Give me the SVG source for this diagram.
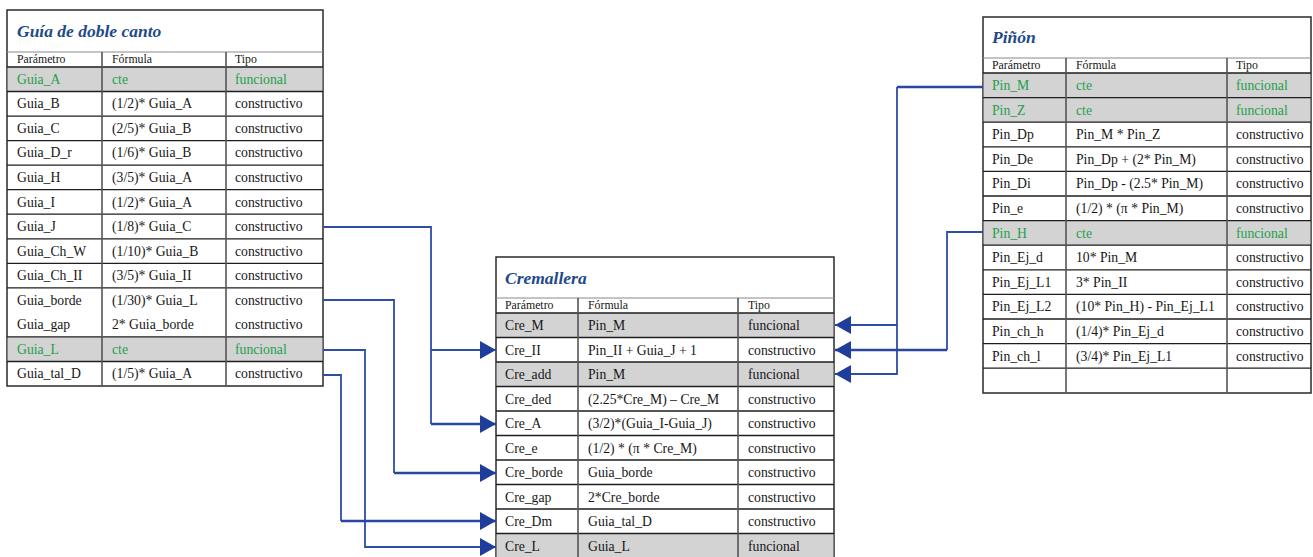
<svg xmlns="http://www.w3.org/2000/svg" width="1313" height="557" viewBox="0 0 1313 557">
<style>
text{font-family:"Liberation Serif","Times New Roman",serif;fill:#161616}
.t{font-size:13.7px}
.h{font-size:11.8px}
.ttl{font-size:17.5px;font-weight:bold;font-style:italic;fill:#1F4A8A}
.g{fill:#22A04B}
.box{fill:#fff;stroke:#2a2a2a;stroke-width:1.5}
.sh{fill:#D3D3D3}
.rl{stroke:#1e1e1e;stroke-width:1.3}
.sl{stroke:#888;stroke-width:1}
.cl{stroke:#555;stroke-width:1.6}
.c{fill:none;stroke:#2E4DA7;stroke-width:1.8}
.ck{fill:none;stroke:#2A46A3;stroke-width:2.4}
</style>
<defs>
<marker id="ar" viewBox="0 0 16 18" refX="16" refY="9" markerWidth="16" markerHeight="18" markerUnits="userSpaceOnUse" orient="auto">
<path d="M0,0 L16,9 L0,18 z" fill="#1F3D9B"/>
</marker>
</defs>

<g id="guia">
<rect class="box" x="7" y="10" width="316" height="376"/>
<rect class="sh" x="7.7" y="67" width="314.6" height="24.5"/>
<rect class="sh" x="7.7" y="336.9" width="314.6" height="24.6"/>
<line class="sl" x1="7" y1="52" x2="323" y2="52"/>
<line class="rl" x1="7" y1="67" x2="323" y2="67"/>
<line class="rl" x1="7" y1="91.5" x2="323" y2="91.5"/>
<line class="rl" x1="7" y1="116.1" x2="323" y2="116.1"/>
<line class="rl" x1="7" y1="140.6" x2="323" y2="140.6"/>
<line class="rl" x1="7" y1="165.2" x2="323" y2="165.2"/>
<line class="rl" x1="7" y1="189.7" x2="323" y2="189.7"/>
<line class="rl" x1="7" y1="214.2" x2="323" y2="214.2"/>
<line class="rl" x1="7" y1="238.8" x2="323" y2="238.8"/>
<line class="rl" x1="7" y1="263.3" x2="323" y2="263.3"/>
<line class="rl" x1="7" y1="287.9" x2="323" y2="287.9"/>
<line class="rl" x1="7" y1="336.9" x2="323" y2="336.9"/>
<line class="rl" x1="7" y1="361.5" x2="323" y2="361.5"/>
<line class="cl" x1="102" y1="52" x2="102" y2="386"/>
<line class="cl" x1="226" y1="52" x2="226" y2="386"/>
<text class="ttl" x="17" y="37">Guía de doble canto</text>
<text class="h" x="17" y="63">Parámetro</text><text class="h" x="112" y="63">Fórmula</text><text class="h" x="235" y="63">Tipo</text>
<text class="t g" x="17" y="83.8">Guia_A</text><text class="t g" x="112" y="83.8">cte</text><text class="t g" x="235" y="83.8">funcional</text>
<text class="t" x="17" y="108.3">Guia_B</text><text class="t" x="112" y="108.3">(1/2)* Guia_A</text><text class="t" x="235" y="108.3">constructivo</text>
<text class="t" x="17" y="132.9">Guia_C</text><text class="t" x="112" y="132.9">(2/5)* Guia_B</text><text class="t" x="235" y="132.9">constructivo</text>
<text class="t" x="17" y="157.4">Guia_D_r</text><text class="t" x="112" y="157.4">(1/6)* Guia_B</text><text class="t" x="235" y="157.4">constructivo</text>
<text class="t" x="17" y="182">Guia_H</text><text class="t" x="112" y="182">(3/5)* Guia_A</text><text class="t" x="235" y="182">constructivo</text>
<text class="t" x="17" y="206.5">Guia_I</text><text class="t" x="112" y="206.5">(1/2)* Guia_A</text><text class="t" x="235" y="206.5">constructivo</text>
<text class="t" x="17" y="231">Guia_J</text><text class="t" x="112" y="231">(1/8)* Guia_C</text><text class="t" x="235" y="231">constructivo</text>
<text class="t" x="17" y="255.6">Guia_Ch_W</text><text class="t" x="112" y="255.6">(1/10)* Guia_B</text><text class="t" x="235" y="255.6">constructivo</text>
<text class="t" x="17" y="280.1">Guia_Ch_II</text><text class="t" x="112" y="280.1">(3/5)* Guia_II</text><text class="t" x="235" y="280.1">constructivo</text>
<text class="t" x="17" y="304.7">Guia_borde</text><text class="t" x="112" y="304.7">(1/30)* Guia_L</text><text class="t" x="235" y="304.7">constructivo</text>
<text class="t" x="17" y="329.2">Guia_gap</text><text class="t" x="112" y="329.2">2* Guia_borde</text><text class="t" x="235" y="329.2">constructivo</text>
<text class="t g" x="17" y="353.7">Guia_L</text><text class="t g" x="112" y="353.7">cte</text><text class="t g" x="235" y="353.7">funcional</text>
<text class="t" x="17" y="378.3">Guia_tal_D</text><text class="t" x="112" y="378.3">(1/5)* Guia_A</text><text class="t" x="235" y="378.3">constructivo</text>
</g>

<g id="cremallera">
<rect class="box" x="496" y="257" width="338" height="310"/>
<rect class="sh" x="496.7" y="313" width="336.6" height="24.5"/>
<rect class="sh" x="496.7" y="362" width="336.6" height="24.5"/>
<rect class="sh" x="496.7" y="533.5" width="336.6" height="30"/>
<line class="sl" x1="496" y1="298" x2="834" y2="298"/>
<line class="rl" x1="496" y1="313" x2="834" y2="313"/>
<line class="rl" x1="496" y1="337.5" x2="834" y2="337.5"/>
<line class="rl" x1="496" y1="362" x2="834" y2="362"/>
<line class="rl" x1="496" y1="386.5" x2="834" y2="386.5"/>
<line class="rl" x1="496" y1="411" x2="834" y2="411"/>
<line class="rl" x1="496" y1="435.5" x2="834" y2="435.5"/>
<line class="rl" x1="496" y1="460" x2="834" y2="460"/>
<line class="rl" x1="496" y1="484.5" x2="834" y2="484.5"/>
<line class="rl" x1="496" y1="509" x2="834" y2="509"/>
<line class="rl" x1="496" y1="533.5" x2="834" y2="533.5"/>
<line class="cl" x1="578" y1="298" x2="578" y2="567"/>
<line class="cl" x1="738" y1="298" x2="738" y2="567"/>
<text class="ttl" x="505" y="284">Cremallera</text>
<text class="h" x="505" y="309">Parámetro</text><text class="h" x="588" y="309">Fórmula</text><text class="h" x="748" y="309">Tipo</text>
<text class="t" x="505" y="330">Cre_M</text><text class="t" x="588" y="330">Pin_M</text><text class="t" x="748" y="330">funcional</text>
<text class="t" x="505" y="354.5">Cre_II</text><text class="t" x="588" y="354.5">Pin_II + Guia_J + 1</text><text class="t" x="748" y="354.5">constructivo</text>
<text class="t" x="505" y="379">Cre_add</text><text class="t" x="588" y="379">Pin_M</text><text class="t" x="748" y="379">funcional</text>
<text class="t" x="505" y="403.5">Cre_ded</text><text class="t" x="588" y="403.5">(2.25*Cre_M) – Cre_M</text><text class="t" x="748" y="403.5">constructivo</text>
<text class="t" x="505" y="428">Cre_A</text><text class="t" x="588" y="428">(3/2)*(Guia_I-Guia_J)</text><text class="t" x="748" y="428">constructivo</text>
<text class="t" x="505" y="452.5">Cre_e</text><text class="t" x="588" y="452.5">(1/2) * (π * Cre_M)</text><text class="t" x="748" y="452.5">constructivo</text>
<text class="t" x="505" y="477">Cre_borde</text><text class="t" x="588" y="477">Guia_borde</text><text class="t" x="748" y="477">constructivo</text>
<text class="t" x="505" y="501.5">Cre_gap</text><text class="t" x="588" y="501.5">2*Cre_borde</text><text class="t" x="748" y="501.5">constructivo</text>
<text class="t" x="505" y="526">Cre_Dm</text><text class="t" x="588" y="526">Guia_tal_D</text><text class="t" x="748" y="526">constructivo</text>
<text class="t" x="505" y="550.5">Cre_L</text><text class="t" x="588" y="550.5">Guia_L</text><text class="t" x="748" y="550.5">funcional</text>
</g>

<g id="pinon">
<rect class="box" x="983" y="17" width="328" height="376"/>
<rect class="sh" x="983.7" y="73" width="326.6" height="49.2"/>
<rect class="sh" x="983.7" y="220.6" width="326.6" height="24.6"/>
<line class="sl" x1="983" y1="58" x2="1311" y2="58"/>
<line class="rl" x1="983" y1="73" x2="1311" y2="73"/>
<line class="rl" x1="983" y1="97.6" x2="1311" y2="97.6"/>
<line class="rl" x1="983" y1="122.2" x2="1311" y2="122.2"/>
<line class="rl" x1="983" y1="146.8" x2="1311" y2="146.8"/>
<line class="rl" x1="983" y1="171.4" x2="1311" y2="171.4"/>
<line class="rl" x1="983" y1="196" x2="1311" y2="196"/>
<line class="rl" x1="983" y1="220.6" x2="1311" y2="220.6"/>
<line class="rl" x1="983" y1="245.2" x2="1311" y2="245.2"/>
<line class="rl" x1="983" y1="269.8" x2="1311" y2="269.8"/>
<line class="rl" x1="983" y1="294.4" x2="1311" y2="294.4"/>
<line class="rl" x1="983" y1="319" x2="1311" y2="319"/>
<line class="rl" x1="983" y1="343.6" x2="1311" y2="343.6"/>
<line class="rl" x1="983" y1="368.2" x2="1311" y2="368.2"/>
<line class="cl" x1="1066" y1="58" x2="1066" y2="393"/>
<line class="cl" x1="1227" y1="58" x2="1227" y2="393"/>
<text class="ttl" x="992" y="43">Piñón</text>
<text class="h" x="992" y="69">Parámetro</text><text class="h" x="1076" y="69">Fórmula</text><text class="h" x="1236" y="69">Tipo</text>
<text class="t g" x="992" y="90">Pin_M</text><text class="t g" x="1076" y="90">cte</text><text class="t g" x="1236" y="90">funcional</text>
<text class="t g" x="992" y="114.6">Pin_Z</text><text class="t g" x="1076" y="114.6">cte</text><text class="t g" x="1236" y="114.6">funcional</text>
<text class="t" x="992" y="139.2">Pin_Dp</text><text class="t" x="1076" y="139.2">Pin_M * Pin_Z</text><text class="t" x="1236" y="139.2">constructivo</text>
<text class="t" x="992" y="163.8">Pin_De</text><text class="t" x="1076" y="163.8">Pin_Dp + (2* Pin_M)</text><text class="t" x="1236" y="163.8">constructivo</text>
<text class="t" x="992" y="188.4">Pin_Di</text><text class="t" x="1076" y="188.4">Pin_Dp - (2.5* Pin_M)</text><text class="t" x="1236" y="188.4">constructivo</text>
<text class="t" x="992" y="213">Pin_e</text><text class="t" x="1076" y="213">(1/2) * (π * Pin_M)</text><text class="t" x="1236" y="213">constructivo</text>
<text class="t g" x="992" y="237.6">Pin_H</text><text class="t g" x="1076" y="237.6">cte</text><text class="t g" x="1236" y="237.6">funcional</text>
<text class="t" x="992" y="262.2">Pin_Ej_d</text><text class="t" x="1076" y="262.2">10* Pin_M</text><text class="t" x="1236" y="262.2">constructivo</text>
<text class="t" x="992" y="286.8">Pin_Ej_L1</text><text class="t" x="1076" y="286.8">3*  Pin_II</text><text class="t" x="1236" y="286.8">constructivo</text>
<text class="t" x="992" y="311.4">Pin_Ej_L2</text><text class="t" x="1076" y="311.4">(10* Pin_H) - Pin_Ej_L1</text><text class="t" x="1236" y="311.4">constructivo</text>
<text class="t" x="992" y="336">Pin_ch_h</text><text class="t" x="1076" y="336">(1/4)* Pin_Ej_d</text><text class="t" x="1236" y="336">constructivo</text>
<text class="t" x="992" y="360.6">Pin_ch_l</text><text class="t" x="1076" y="360.6">(3/4)* Pin_Ej_L1</text><text class="t" x="1236" y="360.6">constructivo</text>
</g>

<g id="connectors">
<path class="c" d="M323,227 H431 V424"/>
<path class="ck" d="M431,424 H496" marker-end="url(#ar)"/>
<path class="c" d="M431,350 H496" marker-end="url(#ar)"/>
<path class="c" d="M323,300 H394 V473"/>
<path class="ck" d="M394,473 H496" marker-end="url(#ar)"/>
<path class="c" d="M323,350 H365 V547 H496" marker-end="url(#ar)"/>
<path class="c" d="M323,375 H341 V521"/>
<path class="ck" d="M341,521 H496" marker-end="url(#ar)"/>
<path class="ck" d="M983,87 H897"/>
<path class="c" d="M897,87 V374 H835" marker-end="url(#ar)"/>
<path class="c" d="M897,325 H835" marker-end="url(#ar)"/>
<path class="c" d="M983,232 H947 V350"/>
<path class="ck" d="M947,350 H835" marker-end="url(#ar)"/>
</g>
</svg>
